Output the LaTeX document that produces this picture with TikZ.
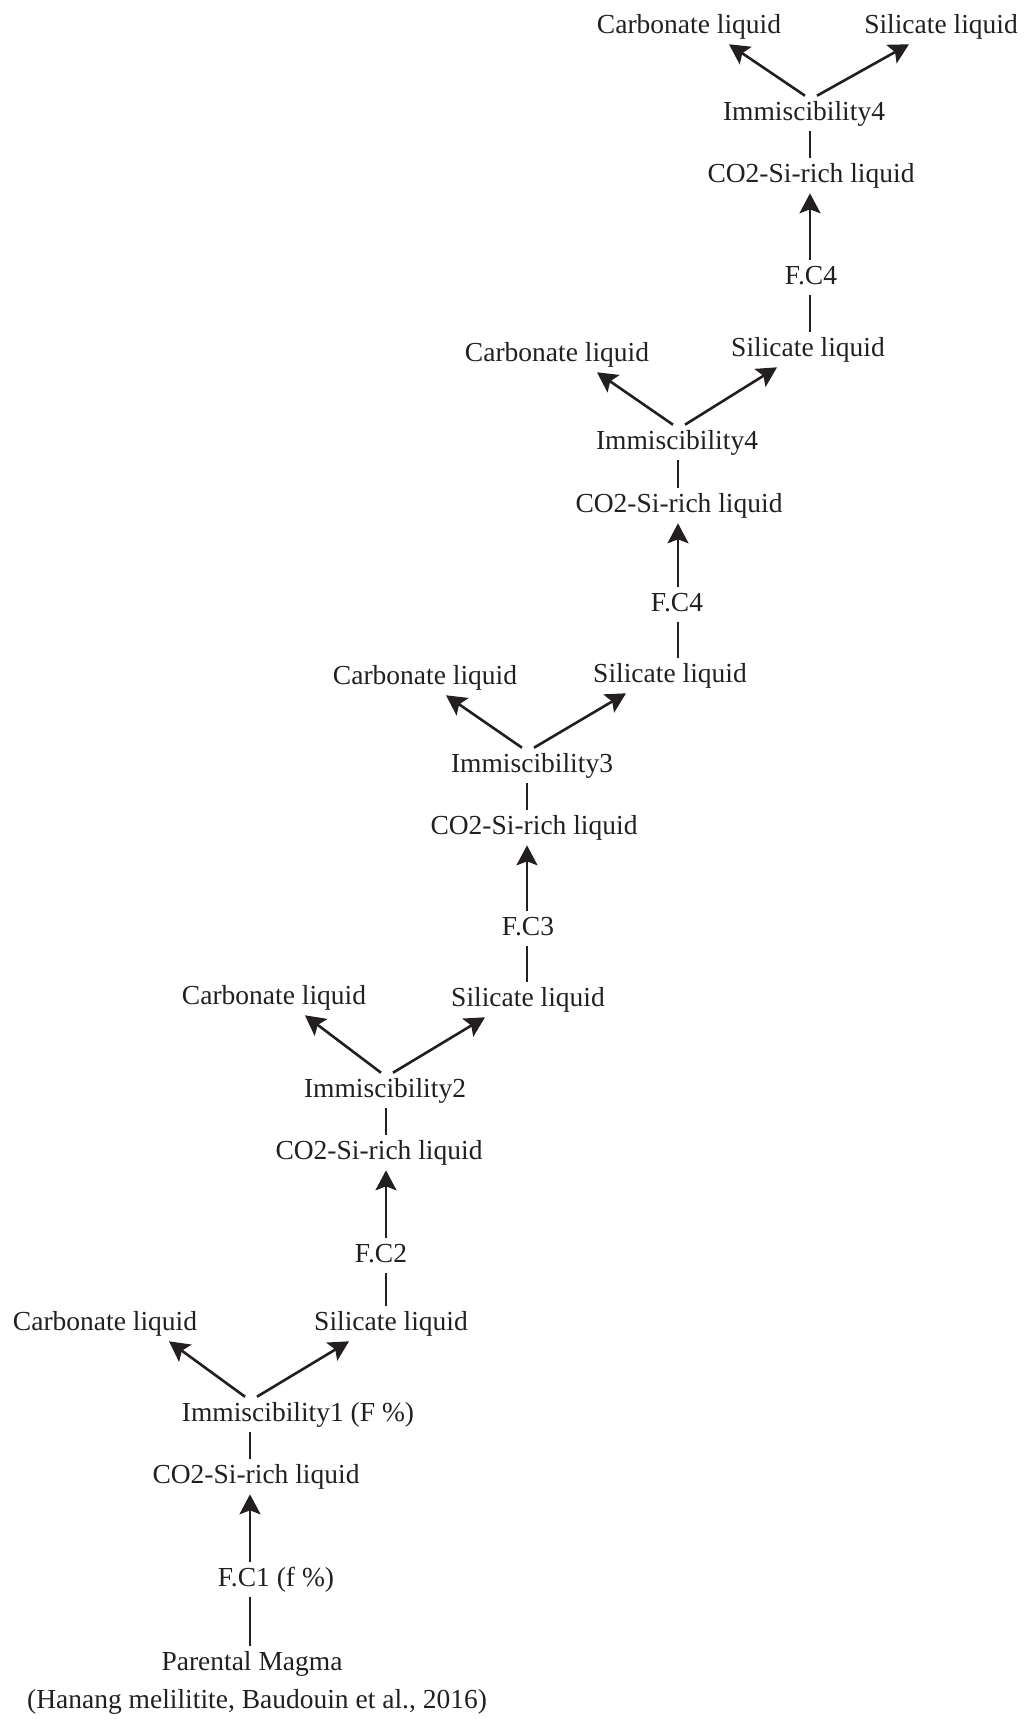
\documentclass[tikz,border=0pt]{standalone}
\usepackage{fontspec}
\setmainfont{Liberation Serif}
\usepackage{tikz}
\usetikzlibrary{arrows.meta}

\definecolor{inchiostro}{RGB}{35,31,32}

\begin{document}
\begin{tikzpicture}[x=1pt, y=-1pt, color=inchiostro, line width=2.6pt,
		>={Stealth[length=20pt, width=21pt, inset=4pt]},
		testo/.style={inner sep=4pt, text height=19pt, text depth=6pt,
			font=\fontsize{27.5}{33}\selectfont}]
				\useasboundingbox (0,-2.5) rectangle (1024,1716.5);

				% Assi verticali dei cinque stadi
				\coordinate (ax1) at (250,0);
				\coordinate (ax2) at (386,0);
				\coordinate (ax3) at (527,0);
				\coordinate (ax4) at (678,0);
				\coordinate (ax5) at (810,0);

				% Stadio 1
				\node[testo] (magma) at (252,1661) {Parental Magma};
				\node[testo] (rif) at (257,1699) {(Hanang melilitite, Baudouin et al., 2016)};
				\node[testo] (fc1) at (276,1577) {F.C1 (f \%)};
				\node[testo] (liq1) at (256,1474) {CO2-Si-rich liquid};
				\node[testo] (imm1) at (298,1412) {Immiscibility1 (F \%)};
				\node[testo] (carb1) at (105,1321) {Carbonate liquid};
				\node[testo] (sil1) at (391,1321) {Silicate liquid};

				\draw (ax1 |- magma.north) -- (ax1 |- fc1.south);
				\draw[->] (ax1 |- fc1.north) -- (ax1 |- liq1.south);
				\draw (ax1 |- liq1.north) -- (ax1 |- imm1.south);
				\draw[->] ([xshift=-5pt]ax1 |- imm1.north) -- ([xshift=-81pt]ax1 |- carb1.south);
				\draw[->] ([xshift=7pt]ax1 |- imm1.north) -- ([xshift=99pt]ax1 |- sil1.south);

				% Stadio 2
				\node[testo] (fc2) at (381,1253) {F.C2};
				\node[testo] (liq2) at (379,1150) {CO2-Si-rich liquid};
				\node[testo] (imm2) at (385,1088) {Immiscibility2};
				\node[testo] (carb2) at (274,995) {Carbonate liquid};
				\node[testo] (sil2) at (528,997) {Silicate liquid};

				\draw (ax2 |- sil1.north) -- (ax2 |- fc2.south);
				\draw[->] (ax2 |- fc2.north) -- (ax2 |- liq2.south);
				\draw (ax2 |- liq2.north) -- (ax2 |- imm2.south);
				\draw[->] ([xshift=-5pt]ax2 |- imm2.north) -- ([xshift=-81pt]ax2 |- carb2.south);
				\draw[->] ([xshift=7pt]ax2 |- imm2.north) -- ([xshift=99pt]ax2 |- sil2.south);

				% Stadio 3
				\node[testo] (fc3) at (528,926) {F.C3};
				\node[testo] (liq3) at (534,825) {CO2-Si-rich liquid};
				\node[testo] (imm3) at (532,763) {Immiscibility3};
				\node[testo] (carb3) at (425,675) {Carbonate liquid};
				\node[testo] (sil3) at (670,673) {Silicate liquid};

				\draw (ax3 |- sil2.north) -- (ax3 |- fc3.south);
				\draw[->] (ax3 |- fc3.north) -- (ax3 |- liq3.south);
				\draw (ax3 |- liq3.north) -- (ax3 |- imm3.south);
				\draw[->] ([xshift=-5pt]ax3 |- imm3.north) -- ([xshift=-81pt]ax3 |- carb3.south);
				\draw[->] ([xshift=7pt]ax3 |- imm3.north) -- ([xshift=99pt]ax3 |- sil3.south);

				% Stadio 4
				\node[testo] (fc4) at (677,602) {F.C4};
				\node[testo] (liq4) at (679,503) {CO2-Si-rich liquid};
				\node[testo] (imm4) at (677,440) {Immiscibility4};
				\node[testo] (carb4) at (557,352) {Carbonate liquid};
				\node[testo] (sil4) at (808,347) {Silicate liquid};

				\draw (ax4 |- sil3.north) -- (ax4 |- fc4.south);
				\draw[->] (ax4 |- fc4.north) -- (ax4 |- liq4.south);
				\draw (ax4 |- liq4.north) -- (ax4 |- imm4.south);
				\draw[->] ([xshift=-5pt]ax4 |- imm4.north) -- ([xshift=-81pt]ax4 |- carb4.south);
				\draw[->] ([xshift=7pt]ax4 |- imm4.north) -- ([xshift=99pt]ax4 |- sil4.south);

				% Stadio 5
				\node[testo] (fc5) at (811,275) {F.C4};
				\node[testo] (liq5) at (811,173) {CO2-Si-rich liquid};
				\node[testo] (imm5) at (804,111) {Immiscibility4};
				\node[testo] (carb5) at (689,24) {Carbonate liquid};
				\node[testo] (sil5) at (941,24) {Silicate liquid};

				\draw (ax5 |- sil4.north) -- (ax5 |- fc5.south);
				\draw[->] (ax5 |- fc5.north) -- (ax5 |- liq5.south);
				\draw (ax5 |- liq5.north) -- (ax5 |- imm5.south);
				\draw[->] ([xshift=-5pt]ax5 |- imm5.north) -- ([xshift=-81pt]ax5 |- carb5.south);
				\draw[->] ([xshift=7pt]ax5 |- imm5.north) -- ([xshift=99pt]ax5 |- sil5.south);
			\end{tikzpicture}
\end{document}
